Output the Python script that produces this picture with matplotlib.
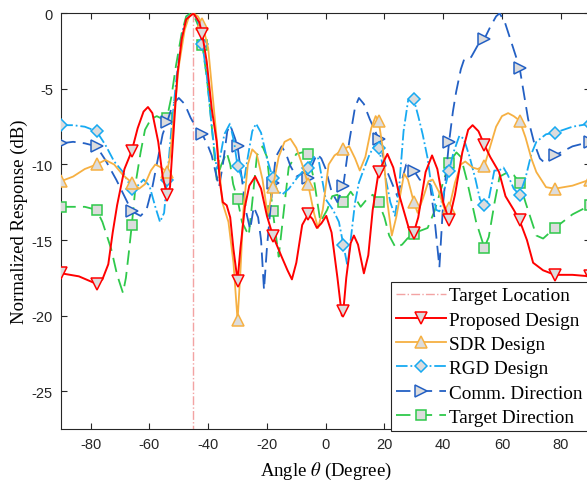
import numpy as np
import matplotlib
matplotlib.use('Agg')
import matplotlib.pyplot as plt

# beampattern samples (angle in degree, response in dB)
prop_ang = [-90, -84, -78, -76, -74, -72.5, -71, -68.5, -66, -64, -62, -60.5, -59, -57, -55.5, -54, -53, -52,
            -50.5, -49, -47.5, -45, -43, -42, -40.5, -38.8, -37.1, -36, -35, -33.7, -32.5, -31.4, -30, -29,
            -27.5, -26, -24, -22, -20, -18, -16.5, -15, -13, -11.5, -10, -8, -6, -4.5, -3, -1.5, 0.2, 2, 4,
            5.5, 6, 7, 8.5, 9.6, 11, 13, 14.5, 16, 18, 21, 23, 25, 28.4, 30, 31.5, 34, 36.2, 38, 40, 42, 44,
            46.5, 48.5, 50, 52, 54, 56, 59, 61.2, 64, 66, 68.5, 70.6, 74, 78, 84, 90]
prop_db = [-17.2, -17.4, -17.9, -17.6, -16.6, -14.5, -12.7, -10.3, -9.1, -7.6, -6.5, -6.2, -6.6, -8.5, -10.8,
           -12.0, -11.5, -8.5, -4.1, -1.7, -0.4, 0, -0.6, -1.4, -3.2, -6.3, -8.5, -11.2, -12.5, -12.7, -13.5,
           -15.6, -17.7, -15.5, -12.8, -11.4, -10.8, -11.6, -13.4, -14.7, -15.4, -16.1, -17.0, -17.6, -16.5,
           -14.0, -13.3, -13.6, -14.2, -13.9, -13.4, -14.5, -17.5, -20.0, -19.7, -17.5, -15.2, -14.7, -15.3,
           -17.2, -16.0, -13.0, -10.5, -9.3, -10.2, -12.0, -14.3, -14.5, -13.5, -10.5, -9.4, -10.3, -12.5,
           -13.7, -12.0, -9.2, -7.7, -7.4, -7.8, -8.7, -9.5, -10.5, -12.1, -13.0, -13.7, -15.0, -16.5, -17.0,
           -17.3, -17.3, -17.4]

sdr_ang = [-90, -86, -82, -78, -75, -72, -69, -66, -63.5, -61.5, -59.5, -58, -56, -54, -53, -51.5, -50, -48,
           -46.5, -45, -43.5, -42, -40, -38.2, -37, -35.2, -33.1, -31.4, -30, -29, -28, -26.5, -25, -23.5,
           -21.5, -20, -19.5, -18, -16, -14, -12, -10, -8, -6, -4, -2.6, -1, 1, 3, 6, 8, 10, 11.6, 13.5, 15.5,
           17, 18, 19.5, 21, 22.5, 24, 26.7, 28, 30, 31.3, 33, 35, 36.4, 38.5, 40.7, 42, 44, 46, 47.5, 50,
           51.7, 54, 56, 58, 60, 62.1, 64, 66, 68, 70, 71.7, 75, 78, 84, 90]
sdr_db = [-11.1, -10.8, -10.3, -10.0, -9.7, -10.0, -10.7, -11.2, -11.6, -11.3, -10.4, -10.0, -10.2, -10.5,
          -9.5, -6.5, -3.5, -1.1, -0.2, 0, -0.2, -0.7, -2.3, -6.0, -8.5, -12.5, -13.8, -16.5, -20.3, -17.0,
          -13.0, -10.0, -9.0, -9.3, -11.0, -13.0, -13.2, -11.5, -9.5, -8.5, -8.3, -8.9, -10.0, -11.3, -13.2,
          -14.2, -13.0, -10.0, -9.4, -9.0, -8.8, -9.6, -10.4, -9.5, -7.6, -6.8, -7.1, -9.0, -12.5, -14.7,
          -13.5, -10.6, -11.0, -12.5, -13.2, -12.3, -11.1, -11.0, -11.8, -13.1, -12.9, -11.2, -10.0, -9.8,
          -10.2, -10.3, -10.1, -8.8, -7.5, -6.8, -6.6, -6.8, -7.1, -8.2, -9.6, -10.5, -11.5, -11.6, -11.4,
          -11.0]

rgd_ang = [-90, -86, -82, -78, -75, -72, -69, -66, -64, -62, -60, -58, -56.4, -55, -54, -52.4, -50.7, -48.5,
           -46.5, -45, -43.5, -42, -40.5, -38.8, -37.1, -36, -34.5, -32.6, -31.2, -30, -27.9, -26.5, -25,
           -23.7, -22, -20, -18, -16.5, -14.9, -12.5, -9.8, -8, -6, -4, -2.5, 0, 2.5, 4.5, 6, 7.4, 8.5, 10,
           11.3, 13, 15, 16.5, 18, 20, 22, 23.6, 25, 26.5, 28.1, 30, 31.5, 33, 34.7, 36, 37.6, 38.7, 40, 42,
           43.5, 45.5, 47, 49, 51, 52.5, 54, 55.5, 57.4, 59, 60.5, 62, 64, 66, 68, 70, 71.7, 75, 78, 84, 90]
rgd_db = [-7.4, -7.4, -7.5, -7.8, -8.7, -9.8, -10.5, -11.6, -11.4, -11.0, -11.4, -12.8, -13.8, -13.2, -11.0,
          -7.4, -4.1, -1.0, -0.1, 0, -0.5, -2.0, -4.1, -7.5, -10.3, -9.6, -8.0, -7.3, -8.5, -10.1, -11.2,
          -9.5, -7.8, -7.3, -7.9, -9.6, -10.9, -11.7, -12.0, -11.6, -10.9, -10.5, -10.2, -9.5, -9.6, -12.3,
          -13.0, -13.8, -15.3, -16.7, -15.0, -12.5, -11.2, -10.3, -9.3, -8.8, -8.9, -10.5, -12.5, -13.4,
          -11.5, -7.8, -5.7, -5.7, -6.8, -8.0, -9.6, -11.5, -13.0, -13.1, -12.0, -10.4, -9.2, -8.1, -8.3,
          -9.5, -11.0, -12.3, -12.7, -12.3, -10.4, -10.4, -10.2, -10.7, -11.6, -12.0, -10.9, -9.3, -8.5,
          -8.0, -7.9, -7.5, -7.3]

comm_ang = [-90, -86, -82, -78, -75, -71.3, -68, -66, -63, -61, -59, -57, -55.5, -54, -52, -50, -48, -46, -44,
            -42, -40, -38.8, -37.5, -36.3, -35, -33.5, -32.5, -31, -30, -28.5, -27, -25.7, -24.5, -23, -22,
            -21, -20, -18, -17, -15, -13.5, -12, -10, -8, -6, -4.5, -3, -1.5, 0, 2, 4, 6, 8, 10, 11.3, 13,
            15, 18, 21, 24.4, 26, 27.4, 29, 30, 32, 34, 35.5, 37, 38.7, 40, 42, 43.3, 44.4, 46, 47.2, 49.5,
            51.8, 54, 56, 58, 59.2, 61, 63, 66, 68.9, 71, 72.9, 74.6, 78, 84, 90]
comm_db = [-8.6, -8.5, -8.6, -8.8, -9.7, -11.0, -12.3, -13.1, -13.4, -13.0, -11.5, -9.5, -8.0, -7.2, -6.0,
           -5.6, -6.0, -6.9, -7.6, -8.0, -8.8, -9.4, -10.5, -11.5, -10.0, -7.8, -7.4, -8.2, -8.8, -11.0,
           -13.2, -14.3, -12.8, -13.5, -15.0, -18.3, -15.5, -11.2, -9.5, -8.8, -9.3, -10.1, -10.8, -10.6,
           -10.9, -10.0, -9.3, -9.6, -10.3, -11.8, -12.5, -11.4, -8.5, -6.2, -5.6, -6.0, -7.0, -8.3, -10.5,
           -12.1, -11.0, -10.0, -10.2, -10.4, -11.0, -11.2, -11.3, -13.5, -16.8, -12.5, -8.5, -6.5, -5.2,
           -3.7, -3.0, -2.9, -2.1, -1.7, -0.9, -0.2, 0, -0.6, -1.8, -3.6, -7.0, -8.6, -9.6, -9.9, -9.4,
           -8.8, -8.5]

tgt_ang = [-90, -86, -82, -78, -76, -73, -71, -69, -68, -67, -66, -64.5, -63, -61.5, -59.5, -57.5, -55.5, -54,
           -52.5, -51, -49, -47.5, -46, -44.5, -43, -42, -40.5, -39.5, -38.3, -37.1, -35.5, -33.7, -32.5,
           -31.5, -30, -28.5, -26.2, -25, -23.4, -21.5, -20, -18, -16, -14.8, -12.6, -10, -8, -6, -4, -1.8,
           0.5, 2.2, 4, 6, 8.5, 10, 11.9, 14, 16, 18, 20, 21.6, 23.8, 26, 27.8, 30, 32, 34.7, 37, 39, 42,
           44.5, 46, 48, 51.2, 54, 55.5, 57.5, 59.2, 62.1, 64, 66, 68, 71.7, 74, 78, 84, 90]
tgt_db = [-12.8, -12.8, -12.8, -13.0, -13.8, -15.6, -17.3, -18.5, -17.5, -15.8, -14.0, -11.0, -9.2, -7.7,
          -7.0, -6.8, -7.0, -6.9, -5.5, -3.5, -1.3, -0.2, 0, -0.3, -1.0, -2.1, -4.2, -6.0, -8.5, -11.0,
          -10.0, -9.2, -10.0, -11.3, -12.3, -13.8, -14.7, -12.5, -9.4, -8.8, -9.5, -13.1, -16.1, -14.0,
          -10.2, -9.3, -9.2, -9.3, -11.0, -13.8, -13.0, -12.1, -12.0, -12.5, -11.8, -12.2, -12.8, -12.3,
          -12.0, -12.5, -13.5, -14.7, -15.5, -15.3, -14.9, -14.6, -14.4, -14.2, -13.1, -11.8, -9.9, -9.2,
          -9.5, -11.0, -13.8, -15.5, -14.8, -12.5, -10.8, -10.5, -10.7, -11.2, -12.5, -14.7, -14.9, -14.2,
          -13.3, -12.7]

target_loc = -45
marker_ang = [-90, -78, -66, -54, -42, -30, -18, -6, 6, 18, 30, 42, 54, 66, 78, 90]

plt.rcParams['mathtext.fontset'] = 'stix'
plt.rcParams['axes.unicode_minus'] = False
serif = 'Liberation Serif'
sans = 'Liberation Sans'


def marks(ang):
    return list(np.isin(np.round(ang, 1), marker_ang))


fig = plt.figure(figsize=(5.87, 4.81), dpi=100)
ax = fig.add_axes([0.1044, 0.106, 0.9009, 0.8642])

face = '#dcdcdc'
ax.plot([target_loc, target_loc], [0, -27.5], '-.', color='#f3a3a3', lw=1.0,
        label='Target Location', zorder=2)
ax.plot(prop_ang, prop_db, '-', color='#ff0000', lw=1.4, marker='v', ms=8, mfc=face, mew=1.1,
        markevery=marks(prop_ang), label='Proposed Design', zorder=8)
ax.plot(sdr_ang, sdr_db, '-', color='#f6b042', lw=1.3, marker='^', ms=8, mfc=face, mew=1.1,
        markevery=marks(sdr_ang), label='SDR Design', zorder=7)
ax.plot(rgd_ang, rgd_db, '-.', color='#17aaf2', lw=1.3, marker='D', ms=6, mfc=face, mew=1.1,
        markevery=marks(rgd_ang), label='RGD Design', zorder=6)
ax.plot(comm_ang, comm_db, '--', color='#2360c4', lw=1.3, marker='>', ms=8, mfc=face, mew=1.1,
        markevery=marks(comm_ang), label='Comm. Direction', dashes=(8, 4), zorder=5)
ax.plot(tgt_ang, tgt_db, '--', color='#2fc94b', lw=1.3, marker='s', ms=6.5, mfc=face, mew=1.1,
        markevery=marks(tgt_ang), label='Target Direction', dashes=(8, 4), zorder=4)

ax.set_xlim(-90, 90)
ax.set_ylim(-27.5, 0)
ax.set_xticks([-80, -60, -40, -20, 0, 20, 40, 60, 80])
ax.set_yticks([-25, -20, -15, -10, -5, 0])
ax.tick_params(direction='in', top=True, right=True, length=4, width=0.8, pad=6,
               labelsize=10.5, colors='#262626')
for lab in ax.get_xticklabels() + ax.get_yticklabels():
    lab.set_family(sans)
for sp in ax.spines.values():
    sp.set_color('#262626')
    sp.set_linewidth(0.8)

ax.set_xlabel(r'Angle $\theta$ (Degree)', family=serif, fontsize=13.5, labelpad=6)
ax.set_ylabel('Normalized Response (dB)', family=serif, fontsize=13.5, labelpad=3)

leg = ax.legend(loc='upper left', bbox_to_anchor=(0.6235, 0.3536), borderaxespad=0,
                prop={'family': serif, 'size': 13.8}, handlelength=2.6, handletextpad=0.2,
                labelspacing=0.36, borderpad=0.25, fancybox=False, framealpha=1, edgecolor='#262626')
leg.get_frame().set_linewidth(0.8)
leg.set_zorder(20)

fig.savefig('out.png', dpi=100)
